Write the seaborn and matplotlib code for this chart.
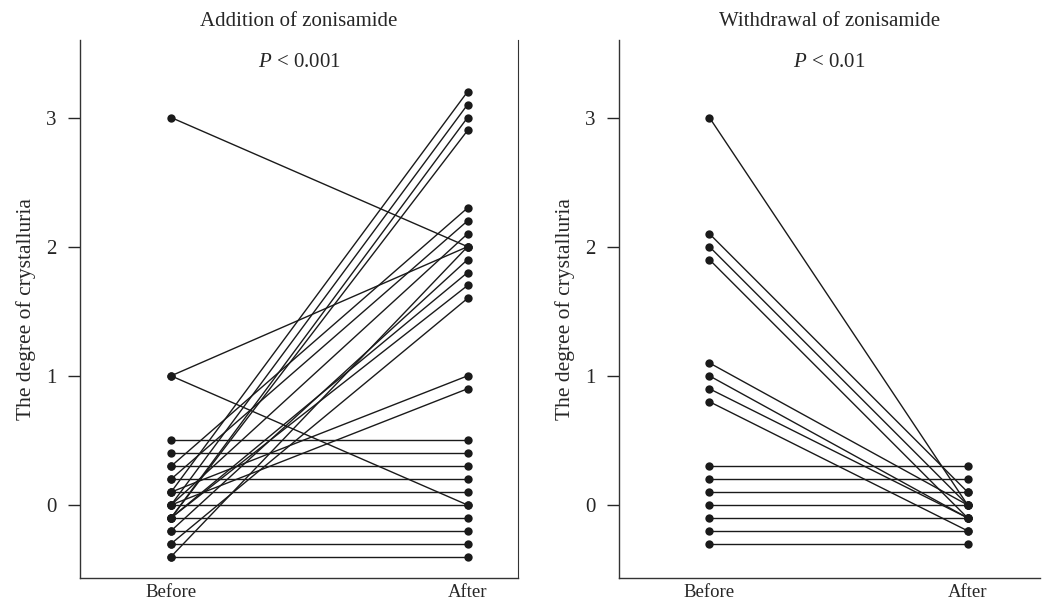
import pandas as pd
import matplotlib.pyplot as plt
import seaborn as sns

# Dados: grau de cristalúria antes/depois (um par por paciente)
add_before = [3, 1, 1, 0.5, 0.4, 0.3, 0.2, 0.1, 0.0, -0.1, -0.2, -0.3, -0.4,
              0.3, 0.2, 0.1, 0.1, 0.0, 0.0, 0.0, -0.1, -0.1, -0.1, -0.1, -0.2, -0.3, -0.4]
add_after = [2.0, 2.0, 0.0, 0.5, 0.4, 0.3, 0.2, 0.1, 0.0, -0.1, -0.2, -0.3, -0.4,
             2.3, 2.2, 3.2, 1.0, 3.1, 2.1, 0.9, 3.0, 2.9, 1.8, 1.7, 1.9, 1.6, 2.0]

wd_before = [3, 2.1, 2.0, 1.9, 1.1, 1.0, 0.9, 0.8, 0.3, 0.2, 0.1, 0.0, -0.1, -0.2, -0.3]
wd_after = [0.0, 0.1, 0.0, -0.1, 0.0, -0.1, -0.1, -0.2, 0.3, 0.2, 0.1, 0.0, -0.1, -0.2, -0.3]

time_labels = ["Before", "After"]
titles = ["Addition of zonisamide", "Withdrawal of zonisamide"]
p_texts = ["$\\mathit{P}$ < 0.001", "$\\mathit{P}$ < 0.01"]


def long_df(before, after):
    rows = []
    for i, (b, a) in enumerate(zip(before, after)):
        rows.append({"sujeito": i, "tempo": 0, "valor": b})
        rows.append({"sujeito": i, "tempo": 1, "valor": a})
    return pd.DataFrame(rows)


sns.set_style("white")
plt.rcParams["font.family"] = ["Liberation Serif", "DejaVu Serif"]
plt.rcParams["mathtext.fontset"] = "custom"
plt.rcParams["mathtext.it"] = "Liberation Serif:italic"
plt.rcParams["mathtext.rm"] = "Liberation Serif"

fig = plt.figure(figsize=(10.46, 6.02), dpi=100)
ax1 = fig.add_axes([80 / 1046, 24 / 602, 438 / 1046, 538 / 602])
ax2 = fig.add_axes([619 / 1046, 24 / 602, 421 / 1046, 538 / 602])

configs = [
    (ax1, long_df(add_before, add_after), (-0.307, 1.17), True),
    (ax2, long_df(wd_before, wd_after), (-0.35, 1.28), False),
]

for k, (ax, df, xlim, right_spine) in enumerate(configs):
    sns.lineplot(data=df, x="tempo", y="valor", units="sujeito", estimator=None,
                 color="#1a1a1a", linewidth=1.0, marker="o", markersize=6,
                 markeredgewidth=0, ax=ax, legend=False)
    ax.set_xlim(*xlim)
    ax.set_ylim(-0.565, 3.6)
    ax.set_xticks([0, 1])
    ax.set_xticklabels(time_labels, fontsize=13.5)
    ax.set_yticks([0, 1, 2, 3])
    ax.tick_params(axis="y", direction="out", length=9, width=1, labelsize=15, left=True, pad=8)
    ax.tick_params(axis="x", length=0, pad=4)
    ax.set_xlabel("")
    ax.set_ylabel("The degree of crystalluria", fontsize=15.5, labelpad=7)
    ax.set_title(titles[k], fontsize=15, pad=10)
    ax.text(0.5, 0.975, p_texts[k], transform=ax.transAxes, ha="center", va="top", fontsize=15)
    for s in ["left", "bottom"]:
        ax.spines[s].set_color("#333333")
        ax.spines[s].set_linewidth(1)
    ax.spines["top"].set_visible(False)
    ax.spines["right"].set_visible(right_spine)
    ax.spines["right"].set_color("#333333")

plt.savefig("out.png", dpi=100)
